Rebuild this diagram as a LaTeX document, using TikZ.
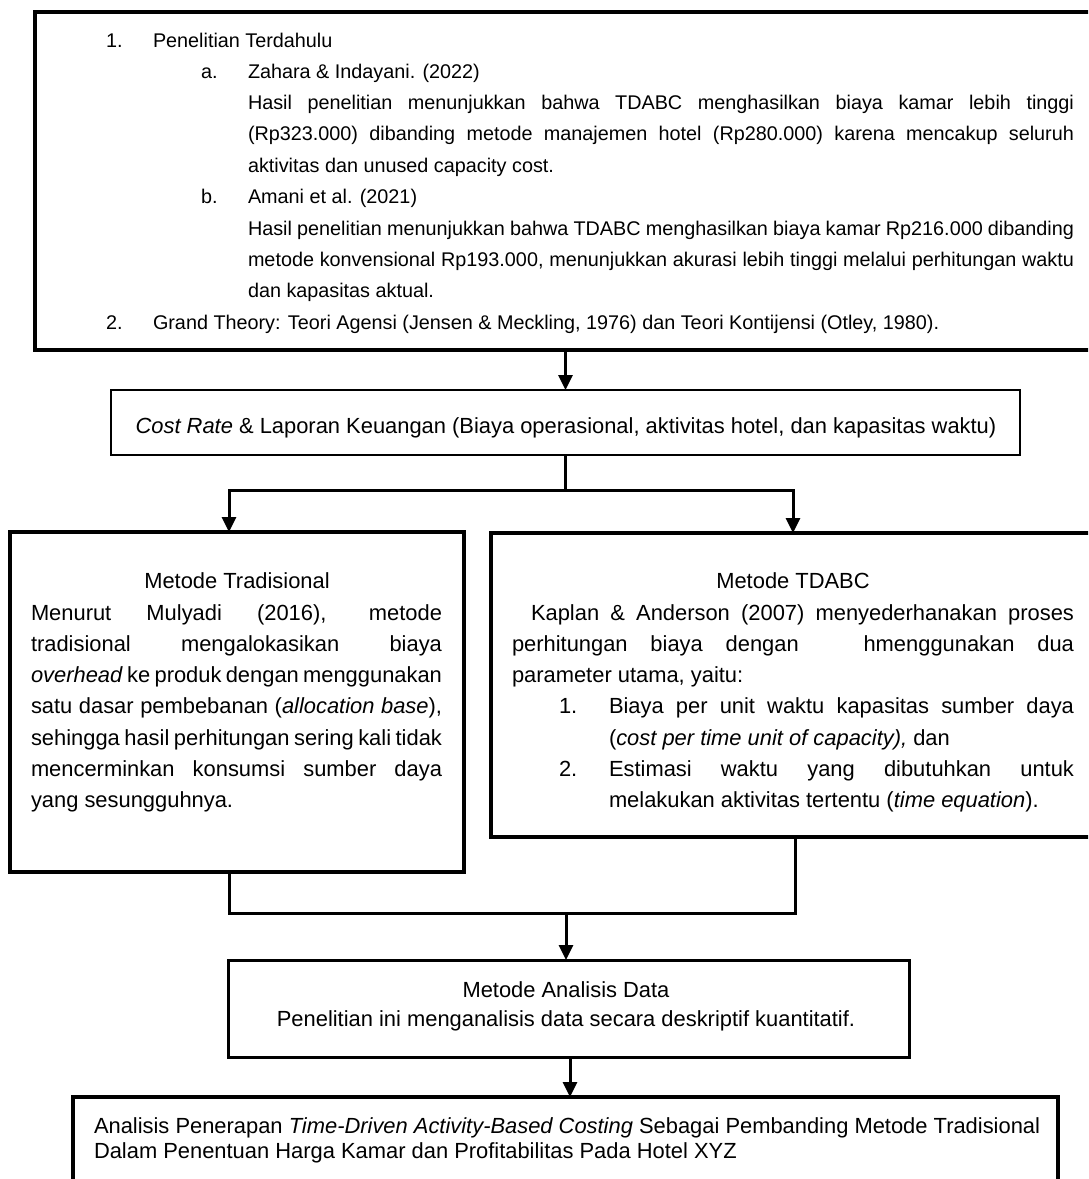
\documentclass[tikz,border=0pt]{standalone}
\usepackage{fontspec}
\setmainfont{Liberation Sans}
\usetikzlibrary{arrows.meta}
\newcommand{\fs}{\fontsize{19.8}{31.3}\selectfont}
\newcommand{\fsb}{\fontsize{21.9}{31.3}\selectfont}
\newcommand{\jline}[2]{\makebox[#1][s]{#2}}
\tikzset{
  frame/.style={draw=black, fill=none, inner sep=0, outer sep=0, rectangle},
  txt/.style={inner sep=0, outer sep=0, anchor=base west, font=\fs},
  btxt/.style={inner sep=0, outer sep=0, anchor=base west, font=\fsb},
  ctxt/.style={inner sep=0, outer sep=0, anchor=base, font=\fsb},
  link/.style={line width=3pt},
  arr/.style={line width=3pt, -{Triangle[length=15pt,width=14pt]}},
}
\begin{document}
\begin{tikzpicture}[x=1pt,y=-1pt]
\useasboundingbox (0,0) rectangle (1088,1179);
\fill[white] (0,0) rectangle (1088,1179);
\clip (0,0) rectangle (1088,1179);

% boxes
\node[frame, line width=3.5pt, minimum width=1060pt, minimum height=338pt] (b1) at (565,181) {};
\node[frame, line width=2.5pt, minimum width=909pt, minimum height=65pt] (b2) at (565.5,422.5) {};
\node[frame, line width=4pt, minimum width=454pt, minimum height=340pt] (bl) at (237,702) {};
\node[frame, line width=4pt, minimum width=604pt, minimum height=304pt] (br) at (793,685) {};
\node[frame, line width=3pt, minimum width=681pt, minimum height=97pt] (b4) at (568.5,1008.5) {};
\node[frame, line width=4pt, minimum width=985pt, minimum height=93pt] (b5) at (565.5,1143.5) {};

% box 1 text
\node[txt] (n1) at (106,47) {1.};
\node[txt] (t1) at (153,47) {Penelitian Terdahulu};
\node[txt] (na) at (201,78.3) {a.};
\node[txt] (ta) at (248,78.3) {Zahara \& Indayani. (2022)};
\node[txt] (pa) at (248,109.6) {\parbox[t]{826pt}{\fs\noindent
  \jline{826pt}{Hasil penelitian menunjukkan bahwa TDABC menghasilkan biaya kamar lebih tinggi}\\
  \jline{826pt}{(Rp323.000) dibanding metode manajemen hotel (Rp280.000) karena mencakup seluruh}\\
  aktivitas dan unused capacity cost.}};
\node[txt] (nb) at (201,203.8) {b.};
\node[txt] (tb) at (248,203.8) {Amani et al. (2021)};
\node[txt] (pb) at (248,235.1) {\parbox[t]{826pt}{\fs\noindent
  \jline{826pt}{Hasil penelitian menunjukkan bahwa TDABC menghasilkan biaya kamar Rp216.000 dibanding}\\
  \jline{826pt}{metode konvensional Rp193.000, menunjukkan akurasi lebih tinggi melalui perhitungan waktu}\\
  dan kapasitas aktual.}};
\node[txt] (n2) at (106,329) {2.};
\node[txt] (t2) at (153,329) {Grand Theory: Teori Agensi (Jensen \& Meckling, 1976) dan Teori Kontijensi (Otley, 1980).};

% box 2 text
\node[ctxt] (t3) at (566,433) {\textit{Cost Rate} \& Laporan Keuangan (Biaya operasional, aktivitas hotel, dan kapasitas waktu)};

% left box text
\node[ctxt] (tl) at (237,588) {Metode Tradisional};
\node[btxt] (pl) at (31,620) {\parbox[t]{411pt}{\fsb\noindent
  \jline{411pt}{Menurut Mulyadi (2016), metode}\\
  \jline{411pt}{tradisional mengalokasikan biaya}\\
  \jline{411pt}{\textit{overhead} ke produk dengan menggunakan}\\
  \jline{411pt}{satu dasar pembebanan (\textit{allocation base}),}\\
  \jline{411pt}{sehingga hasil perhitungan sering kali tidak}\\
  \jline{411pt}{mencerminkan konsumsi sumber daya}\\
  yang sesungguhnya.}};

% right box text
\node[ctxt] (tr) at (793,588) {Metode TDABC};
\node[btxt] (pr) at (512,620) {\parbox[t]{562pt}{\fsb\noindent
  \hspace*{19pt}\jline{543pt}{Kaplan \& Anderson (2007) menyederhanakan proses}\\
  \jline{562pt}{perhitungan biaya dengan\hspace{42pt} hmenggunakan dua}\\
  parameter utama, yaitu:}};
\node[btxt] (r1) at (559,713.9) {1.};
\node[btxt] (p1) at (609,713.9) {\parbox[t]{465pt}{\fsb\noindent
  \jline{465pt}{Biaya per unit waktu kapasitas sumber daya}\\
  (\textit{cost per time unit of capacity),} dan}};
\node[btxt] (r2) at (559,776.5) {2.};
\node[btxt] (p2) at (609,776.5) {\parbox[t]{465pt}{\fsb\noindent
  \jline{465pt}{Estimasi waktu yang dibutuhkan untuk}\\
  melakukan aktivitas tertentu (\textit{time equation}).}};

% box 4 text
\node[ctxt] (t4a) at (566,997) {Metode Analisis Data};
\node[ctxt] (t4b) at (566,1026) {Penelitian ini menganalisis data secara deskriptif kuantitatif.};

% box 5 text
\node[btxt] (t5a) at (94,1133) {Analisis Penerapan \textit{Time-Driven Activity-Based Costing} Sebagai Pembanding Metode Tradisional};
\node[btxt] (t5b) at (94,1158) {Dalam Penentuan Harga Kamar dan Profitabilitas Pada Hotel XYZ};

% connectors
\coordinate (jl) at (229,490);
\coordinate (jr) at (793,490);
\coordinate (kl) at (229,913);
\coordinate (kr) at (795,913);
\coordinate (km) at (566,913);
\coordinate (m5) at (570,1057);

\draw[arr] (b1.south -| b2.north) -- (b2.north);
\draw[link] (b2.south) -- (b2.south |- jl);
\draw[arr] (b2.south |- jl) -| (jl |- bl.north);
\draw[arr] (b2.south |- jr) -| (jr |- br.north);
\draw[link] (kl |- bl.south) -- (kl) -- (kr) -- (kr |- br.south);
\draw[arr] (km) -- (km |- b4.north);
\draw[arr] (m5) -- (m5 |- b5.north);
\end{tikzpicture}
\end{document}
